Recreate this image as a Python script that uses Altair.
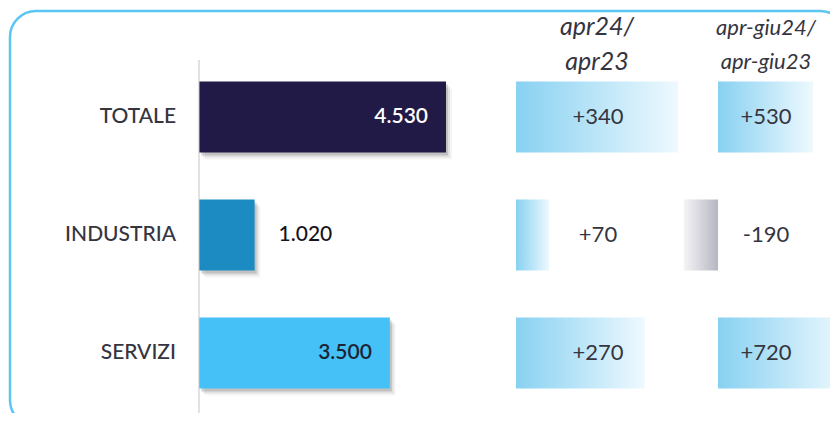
import altair as alt
import pandas as pd

# ---- data ----
categories = ["TOTALE", "INDUSTRIA", "SERVIZI"]
values = [4530, 1020, 3500]
value_labels = ["4.530", "1.020", "3.500"]
chg_month = [340, 70, 270]
chg_month_labels = ["+340", "+70", "+270"]
chg_quarter = [530, -190, 720]
chg_quarter_labels = ["+530", "-190", "+720"]
header_month = ["apr24/", "apr23"]
header_quarter = ["apr-giu24/", "apr-giu23"]

df = pd.DataFrame({
    "cat": categories,
    "value": values,
    "label": value_labels,
    "m": chg_month,
    "ml": chg_month_labels,
    "q": chg_quarter,
    "ql": chg_quarter_labels,
})

FONT = "Lato"
TEXT_DARK = "#35353f"

yscale = alt.Scale(domain=categories, range=[50, 404], paddingInner=0.4, paddingOuter=0.2)
Y = alt.Y("cat:N", scale=yscale, axis=None)

bar_scale = alt.Scale(domain=[0, 4530], range=[191, 438], nice=False, zero=True)
m_scale = alt.Scale(domain=[0, 340], range=[508, 670], nice=False, zero=True)
q_scale = alt.Scale(domain=[0, 530], range=[710, 805], nice=False, zero=True)

blue_grad = {"gradient": "linear", "x1": 0, "x2": 1, "y1": 0, "y2": 0,
             "stops": [{"offset": 0, "color": "#88d1f1"}, {"offset": 1, "color": "#eef9fe"}]}
grey_grad = {"gradient": "linear", "x1": 0, "x2": 1, "y1": 0, "y2": 0,
             "stops": [{"offset": 0, "color": "#f4f4f7"}, {"offset": 1, "color": "#b6b6c2"}]}

base = alt.Chart(df)

# frame
one = pd.DataFrame({"k": [0]})
frame = alt.Chart(one).mark_rect(
    fill="transparent", stroke="#5cc6f3", strokeWidth=2.5, cornerRadius=26
).encode(x=alt.value(2), x2=alt.value(838), y=alt.value(3), y2=alt.value(418))

# main bars
BX = alt.X("value:Q", scale=bar_scale, axis=None)
shadows = [
    base.mark_bar(color="#000000", opacity=op, xOffset=o, yOffset=o + 1, y2Offset=o + 1)
    .encode(x=BX, y=Y)
    for o, op in [(6, 0.04), (4, 0.08), (2, 0.14)]
]
bars = base.mark_bar().encode(
    x=BX, y=Y,
    color=alt.Color("cat:N", scale=alt.Scale(domain=categories,
                                             range=["#221a46", "#1b8bc1", "#45c1f8"]),
                    legend=None),
)
lab_in = base.transform_filter("datum.value > 2000").transform_calculate(
    tc="datum.cat == 'TOTALE' ? '#ffffff' : '#1c2433'"
).mark_text(align="right", dx=-18, font=FONT, fontSize=21, fontWeight=600).encode(
    x=BX, y=Y, text="label:N", color=alt.Color("tc:N", scale=None)
)
lab_out = base.transform_filter("datum.value <= 2000").mark_text(
    align="left", dx=24, font=FONT, fontSize=21, fontWeight=500, color="#15151c"
).encode(x=BX, y=Y, text="label:N")
axis_rule = alt.Chart(one).mark_rule(color="#c4c4c4", strokeWidth=1).encode(
    x=alt.datum(0, scale=bar_scale), y=alt.value(52), y2=alt.value(405)
)
cat_labels = base.mark_text(align="right", font=FONT, fontSize=21, fontWeight=500,
                            color=TEXT_DARK).encode(x=alt.value(168), y=Y, text="cat:N")
bar_layer = alt.layer(*shadows, bars, lab_in, lab_out, axis_rule)

# change column: month
MX = alt.X("m:Q", scale=m_scale, axis=None)
m_pos = base.transform_filter("datum.m >= 0").mark_bar(color=blue_grad).encode(x=MX, y=Y)
m_neg = base.transform_filter("datum.m < 0").mark_bar(color=grey_grad).encode(x=MX, y=Y)
m_txt = base.mark_text(font=FONT, fontSize=22, color=TEXT_DARK).encode(
    x=alt.value(590), y=Y, text="ml:N")
m_layer = alt.layer(m_pos, m_neg)

# change column: quarter
QX = alt.X("q:Q", scale=q_scale, axis=None)
q_pos = base.transform_filter("datum.q >= 0").mark_bar(color=blue_grad).encode(x=QX, y=Y)
q_neg = base.transform_filter("datum.q < 0").mark_bar(color=grey_grad).encode(x=QX, y=Y)
q_txt = base.mark_text(font=FONT, fontSize=22, color=TEXT_DARK).encode(
    x=alt.value(758), y=Y, text="ql:N")
q_layer = alt.layer(q_pos, q_neg)

# headers
def hdr(txt, x, y, size):
    return alt.Chart(one).mark_text(text=txt, font=FONT, fontSize=size, fontStyle="italic",
                                    color=TEXT_DARK, baseline="alphabetic").encode(
        x=alt.value(x), y=alt.value(y))

headers = [
    hdr(header_month[0], 589, 27, 25), hdr(header_month[1], 589, 62, 25),
    hdr(header_quarter[0], 758, 27, 22), hdr(header_quarter[1], 758, 61, 22),
]

chart = alt.layer(
    frame, bar_layer, m_layer, q_layer, cat_labels, m_txt, q_txt, *headers
).resolve_scale(x="independent").properties(
    width=822, height=405, padding=0,
    autosize=alt.AutoSizeParams(type="none"),
).configure_view(stroke=None)

chart.save("out.html", embed_options={"renderer": "svg", "actions": False})
